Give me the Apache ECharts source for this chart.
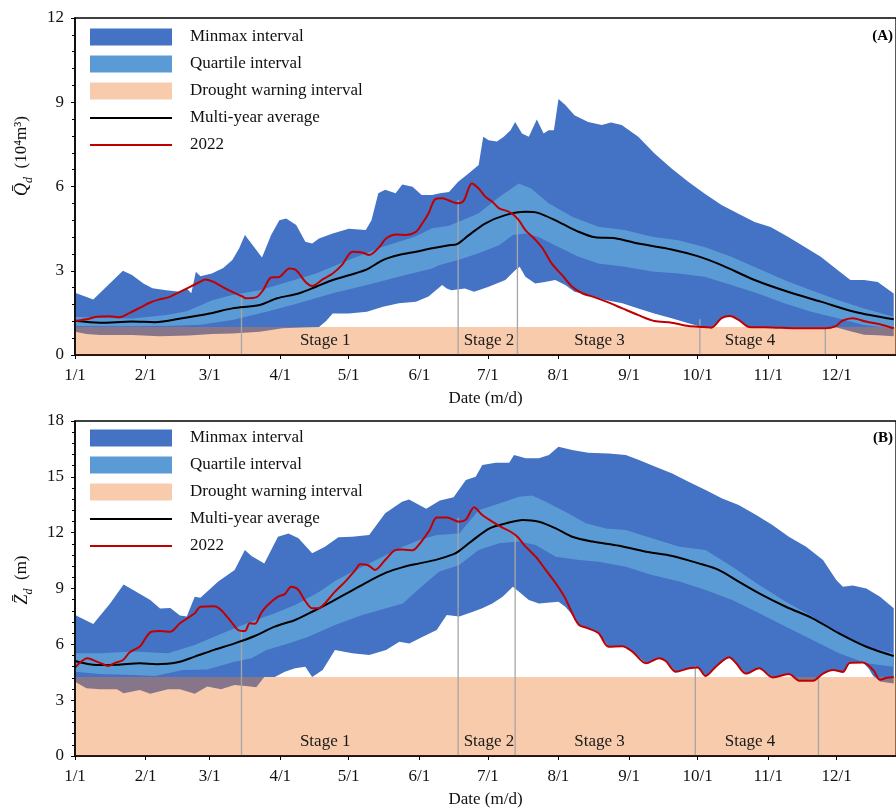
<!DOCTYPE html>
<html><head><meta charset="utf-8">
<script src="https://cdn.jsdelivr.net/npm/echarts@6/dist/echarts.min.js"></script>
<style>html,body{margin:0;padding:0;background:#fff}#c{width:896px;height:809px}</style>
</head><body><div id="c"></div>
<script>
// ---------- axis ticks ----------
const monthStarts = [0,31,59,90,120,151,181,212,243,273,304,334];
const monthLabels = ['1/1','2/1','3/1','4/1','5/1','6/1','7/1','8/1','9/1','10/1','11/1','12/1'];
const stageNames = ['Stage 1','Stage 2','Stage 3','Stage 4'];

// ---------- Panel A : discharge (10^4 m3), [day-of-year index, value] ----------
const aMax = [[0,2.22],[8,1.98],[14,2.45],[21,3.0],[25,2.85],[30,2.55],[34,2.38],[40,2.31],[46,2.25],[49,2.37],[51,2.2],[53,2.96],[55,2.8],[60,2.9],[65,3.1],[69,3.38],[72,3.8],[74.5,4.27],[78,3.9],[82,3.47],[86,4.27],[89.6,4.8],[92.6,4.86],[97,4.63],[101,4.03],[104,3.97],[107,4.15],[113,4.33],[120,4.5],[127.5,4.45],[130,4.8],[133,5.76],[136,5.88],[140.6,5.76],[143.5,6.07],[148,5.99],[152,5.7],[156.6,5.7],[160,5.76],[164,5.8],[168,6.17],[172.7,6.47],[177,6.77],[179,7.77],[181.4,7.65],[185,7.6],[188,7.77],[191,8.0],[193,8.3],[196,7.89],[199,7.77],[202.5,8.39],[205.5,7.89],[207.7,8.0],[210,8.0],[212,9.12],[215,8.9],[219,8.54],[225,8.3],[231,8.19],[235,8.28],[239.7,8.19],[247,7.77],[254,7.18],[261.6,6.64],[268.9,6.17],[276,5.75],[283.5,5.34],[290.7,5.04],[298,4.74],[305,4.56],[312.6,4.21],[320,3.85],[327,3.5],[334.5,3.02],[340,2.67],[346,2.67],[352,2.6],[359,2.19]];
const aQ3 = [[0,1.36],[10,1.32],[25.5,1.3],[40,1.42],[49,1.56],[60.5,1.96],[69,2.14],[81,2.31],[91,2.55],[105.7,2.9],[120,3.38],[134.7,3.85],[149,4.21],[156.6,4.51],[164,4.6],[168,4.74],[177,5.05],[186,5.63],[194.6,6.11],[200,5.93],[207.7,5.4],[218,4.92],[229.5,4.57],[241,4.45],[253,4.21],[264.5,4.09],[276,3.85],[287.8,3.5],[299.5,3.08],[311,2.67],[322.8,2.31],[334.5,1.96],[346,1.66],[359,1.36]];
const aMean = [[0,1.22],[11,1.15],[25,1.19],[35,1.17],[47,1.31],[59,1.48],[69,1.66],[81,1.78],[88.6,2.02],[98,2.19],[105.7,2.43],[113,2.67],[120.5,2.85],[128,3.05],[135,3.38],[142,3.56],[149.5,3.68],[156.6,3.8],[164,3.91],[167.5,3.95],[172.7,4.27],[180,4.69],[188.7,4.98],[197.5,5.1],[203,5.06],[212,4.74],[220.8,4.39],[228,4.19],[236.8,4.16],[247,3.97],[261.6,3.76],[273,3.52],[283.5,3.2],[298,2.67],[312.6,2.25],[327,1.9],[341.7,1.54],[359,1.27]];
const aQ1 = [[0,1.03],[20,1.02],[40,1.03],[55,1.08],[69,1.25],[84,1.54],[98,1.84],[113,2.2],[128,2.49],[142,2.79],[156.6,3.08],[159.6,3.2],[168,3.38],[177,3.62],[186,3.91],[192,4.27],[197.5,4.33],[203,4.21],[212,3.85],[220.8,3.5],[229.5,3.26],[241,3.14],[253,2.97],[264.5,2.9],[276,2.79],[287.8,2.49],[299.5,2.19],[311,1.84],[322.8,1.54],[334.5,1.31],[346,1.07],[359,0.95]];
const aMin = [[0,0.83],[5,0.75],[11,0.71],[25,0.71],[37,0.67],[50,0.69],[60,0.75],[69,0.77],[81,0.83],[91,0.95],[100,0.98],[107,1.0],[110,1.2],[113,1.48],[120,1.48],[128,1.54],[135,1.72],[142,1.84],[149.5,1.9],[155,2.08],[161,2.49],[163,2.37],[165,2.31],[171,2.37],[175,2.25],[181.4,2.43],[188.7,2.67],[193,3.02],[195,3.14],[197.5,2.79],[201.8,2.55],[206,2.6],[210.6,2.67],[215,2.49],[219,2.25],[225,2.14],[232.5,1.96],[240,1.84],[247,1.66],[254,1.48],[261.6,1.31],[269,1.13],[275,1.0],[279,0.97],[283.5,1.31],[287.2,1.39],[291,1.25],[295.5,1.0],[305.6,0.98],[317.5,0.95],[329,0.95],[334,0.98],[340,0.85],[346,0.72],[352,0.7],[359,0.67]];
const a2022 = [[0,1.21],[5,1.27],[9.5,1.36],[15,1.38],[19.6,1.34],[24,1.5],[28.4,1.68],[33,1.87],[37,1.98],[41.5,2.07],[46,2.25],[50,2.41],[55,2.61],[57,2.69],[60.5,2.61],[65,2.41],[69,2.25],[73,2.1],[75,2.02],[79.6,2.06],[82.5,2.31],[86,2.76],[89.6,2.78],[94,3.08],[97,3.02],[101,2.61],[104,2.46],[108.6,2.69],[113,2.9],[117,3.2],[121.7,3.68],[126,3.65],[129,3.56],[133.5,3.85],[136.4,4.15],[141,4.29],[145,4.27],[149.5,4.39],[152.3,4.69],[155,5.04],[158,5.55],[161,5.58],[164,5.5],[168,5.4],[170.5,5.5],[174,6.11],[177,5.93],[180,5.63],[183,5.46],[186,5.22],[189,5.14],[191.6,5.04],[194.6,4.8],[197.5,4.45],[202,4.09],[205,3.8],[209,3.26],[213.5,2.85],[218,2.43],[222.6,2.19],[227,2.08],[233,1.9],[240,1.66],[247,1.42],[254,1.21],[261.6,1.15],[269,1.03],[276,1.0],[279,0.97],[283.5,1.31],[287.2,1.39],[291,1.25],[295.5,1.0],[305.6,0.98],[317.5,0.95],[329,0.95],[333.6,1.03],[336.5,1.22],[341,1.31],[346.8,1.19],[354,1.07],[359,0.95]];
const aDrought = 1.0;
const aStageDays = [73,168,194,274,329];
const aStageTops = [2.1,5.52,4.98,1.27,0.97];
const aStageLabelDays = [109.7,181.5,230,296];
const aStageLabelY = 0.5;

// ---------- Panel B : water level (m) ----------
const bMax = [[0,7.58],[8,7.09],[15.4,8.2],[21.3,9.22],[25.7,8.91],[33,8.38],[37.3,7.93],[41.8,7.95],[46,7.55],[49,7.5],[52.5,8.56],[55,8.5],[62.8,9.37],[70,10.0],[74.5,11.07],[77.4,10.75],[83,10.35],[89,11.78],[93.6,11.96],[98,11.7],[104,10.89],[109.6,11.25],[115.5,11.75],[121.5,11.78],[129,11.87],[136,13.04],[143.4,13.66],[146.5,13.78],[154,13.29],[160,13.73],[166,13.9],[171.4,14.83],[175.7,15.0],[178.6,15.64],[184.5,15.76],[190.4,15.76],[192.5,16.17],[197.6,16.0],[203.4,16.0],[207.8,16.17],[212,16.62],[218,16.44],[225,16.3],[234,16.26],[241.5,16.17],[247.3,15.9],[254.5,15.54],[261.9,15.18],[269,14.74],[276.5,14.29],[283.8,13.84],[291,13.49],[298.5,12.96],[305.8,12.41],[313,11.78],[320.6,11.25],[328,10.53],[333.8,9.46],[336.7,9.1],[341,9.16],[347,9.0],[353,8.56],[359,7.94]];
const bQ3 = [[0,5.52],[11,5.52],[25.7,5.61],[40.8,5.52],[52.5,5.96],[61,6.41],[70,6.86],[78.8,7.3],[87.6,7.67],[96.5,8.12],[106.8,8.8],[114,9.4],[121.6,9.9],[129,10.35],[136.4,10.8],[143.8,11.25],[151,11.6],[158.6,11.87],[168.5,11.96],[177,13.2],[186,13.57],[194.7,13.93],[200.5,14.0],[206.4,13.66],[215,13.13],[224,12.5],[232.8,12.23],[241.5,12.14],[253,11.7],[265,11.25],[276.5,11.07],[288.2,10.17],[300,9.19],[311.7,8.29],[323.4,7.49],[335,6.59],[347,5.87],[359,5.52]];
const bMean = [[0,5.1],[9.5,4.89],[18.4,4.9],[28.4,4.98],[35.7,4.93],[44.5,5.02],[52.5,5.34],[61,5.7],[70,6.05],[78.8,6.45],[87.6,6.95],[96.5,7.31],[104,7.75],[112.6,8.3],[121.6,8.9],[129,9.4],[136.4,9.85],[143.8,10.15],[151,10.35],[158.6,10.55],[166,10.85],[168,10.98],[174.5,11.6],[181.8,12.23],[189,12.5],[196.3,12.68],[203.4,12.59],[210.8,12.23],[218,11.78],[227,11.52],[238.6,11.3],[250.4,10.98],[261.9,10.75],[273.5,10.35],[282.4,9.99],[291,9.37],[300,8.74],[311.7,8.02],[323.4,7.4],[335,6.59],[347,5.87],[359,5.37]];
const bQ1 = [[0,4.53],[11,4.41],[25.7,4.35],[35,4.3],[47.4,4.62],[58,4.65],[70,5.07],[77.4,5.25],[84,5.7],[93.6,6.05],[102.4,6.41],[114,7.04],[126,7.58],[136.4,7.94],[143.8,8.2],[151,9.0],[159.6,9.9],[168.5,10.26],[177,11.07],[186,11.43],[194.7,11.52],[202,11.34],[210.8,10.71],[221,10.53],[229.6,10.44],[241.5,10.17],[253,9.73],[265,9.37],[276.5,8.92],[288.2,8.38],[300,7.67],[311.7,6.95],[323.4,6.23],[335,5.52],[347,4.98],[359,4.8]];
const bMin = [[0,3.99],[5,3.64],[11,3.58],[18.4,3.58],[21.3,3.37],[28.4,3.55],[33,3.34],[40.8,3.58],[46,3.58],[52.5,3.34],[58,3.73],[64,3.58],[70,3.82],[75.8,3.75],[79.5,3.7],[83,4.25],[87.6,4.25],[92,4.53],[96.5,4.71],[101,4.8],[104,4.25],[108.6,4.62],[114,5.7],[121.6,5.52],[129,5.43],[136.4,5.7],[142.2,6.14],[146.6,6.05],[152.5,6.41],[158.6,6.77],[163,7.58],[168.5,7.49],[174.5,7.75],[178.6,7.94],[183,8.2],[187.5,8.56],[192,9.1],[194.7,8.82],[199,8.38],[203.4,8.2],[212,8.29],[215,8.02],[218,7.6],[221,7.04],[225,6.86],[229.6,6.59],[234,5.87],[240,5.9],[244.4,5.61],[250.4,4.98],[256.2,5.25],[259,5.1],[263.5,4.53],[269.3,4.71],[273,4.75],[276.5,4.3],[281,4.8],[286.8,5.3],[289.8,5.0],[294.2,4.43],[300,4.71],[306,4.22],[313,4.4],[317.8,4.04],[323.6,4.04],[328,4.43],[332.4,4.62],[336.7,4.52],[339.7,5.0],[345.5,5.02],[348,4.7],[350,4.3],[353,4.0],[359,3.9]];
const b2022 = [[0,4.75],[2,5.0],[5.4,5.25],[9.5,5.07],[12.4,4.93],[14.6,4.84],[17.5,5.0],[21.1,5.16],[24,5.57],[28.4,5.88],[33.5,6.68],[37.3,6.71],[41.8,6.68],[46,7.13],[52.5,7.67],[55,8.02],[61,8.05],[64,7.85],[68.5,7.21],[71.5,6.77],[74.5,6.71],[76.6,7.13],[78.8,7.1],[81.7,7.7],[84.4,8.1],[89,8.56],[92,8.7],[94.8,9.1],[97.8,8.95],[100.7,8.38],[104,7.94],[106.8,7.94],[109.6,8.2],[114,8.83],[118.5,9.37],[123,10.0],[125,10.3],[128.5,10.25],[131.5,10.0],[136,10.53],[140,11.04],[143.4,11.1],[148,11.05],[151.8,11.51],[155.5,12.14],[158.6,12.82],[163,12.82],[168.5,12.59],[171.4,12.7],[175,13.36],[178.6,12.95],[183,12.59],[186.6,12.32],[191,12.05],[194,11.78],[197.6,11.25],[202,10.71],[206.4,10.0],[210.8,9.28],[215,8.47],[218,7.67],[221,7.04],[225,6.86],[229.6,6.59],[234,5.87],[240,5.9],[244.4,5.61],[250.4,4.98],[256.2,5.25],[259,5.1],[263.5,4.53],[269.3,4.71],[273,4.75],[276.5,4.3],[281,4.8],[286.8,5.3],[289.8,5.0],[294.2,4.43],[300,4.71],[306,4.22],[313,4.4],[317.8,4.04],[323.6,4.04],[328,4.43],[332.4,4.62],[336.7,4.52],[339.7,5.0],[345.5,5.02],[350,4.62],[353,4.1],[356,4.2],[359,4.25]];
const bDrought = 4.25;
const bStageDays = [73,168,193,272,326];
const bStageTops = [6.71,12.8,11.89,4.84,4.3];
const bStageLabelDays = [109.7,181.5,230,296];
const bStageLabelY = 0.77;

// ---------- styling ----------
const FONT = '"Liberation Serif", "Times New Roman", serif';
const C_MINMAX = '#4472C4', C_QUART = '#5B9BD5', C_DROUGHT = 'rgba(237,125,49,0.4)';
const C_MEAN = '#000000', C_2022 = '#C00000', C_STAGE = '#A6A6A6';
const X_MAX = 360;
const LINE_ICON = 'path://M0,0H41V1H0Z';

const chart = echarts.init(document.getElementById('c'), null, {renderer:'canvas'});

function band(name, upper, lower, color, gi, z) {
  return {
    type:'custom', name, xAxisIndex:gi, yAxisIndex:gi, z, clip:true,
    itemStyle:{color}, data:[[0,0]], silent:true,
    renderItem:(params, api) => {
      const pts = upper.map(p => api.coord(p)).concat(lower.slice().reverse().map(p => api.coord(p)));
      return {type:'polygon', shape:{points:pts}, style:{fill:color}};
    }
  };
}
function drought(thr, gi) {
  return {
    type:'custom', name:'Drought warning interval', xAxisIndex:gi, yAxisIndex:gi, z:3, clip:true,
    itemStyle:{color:C_DROUGHT}, data:[[0,thr]], silent:true,
    renderItem:(params, api) => {
      const p0 = api.coord([0, api.value(1)]), p1 = api.coord([X_MAX, 0]);
      return {type:'rect', shape:{x:p0[0], y:p0[1], width:p1[0]-p0[0], height:p1[1]-p0[1]}, style:{fill:C_DROUGHT}};
    }
  };
}
function stageLines(days, tops, gi) {
  return {
    type:'custom', xAxisIndex:gi, yAxisIndex:gi, z:4, silent:true,
    data: days.map((d,i) => [d, tops[i]]),
    renderItem:(params, api) => {
      const a = api.coord([api.value(0), 0]), b = api.coord([api.value(0), api.value(1)]);
      return {type:'line', shape:{x1:a[0], y1:a[1], x2:b[0], y2:b[1]}, style:{stroke:C_STAGE, lineWidth:1.3}};
    }
  };
}
function stageLabels(days, y, gi) {
  return {
    type:'custom', xAxisIndex:gi, yAxisIndex:gi, z:7, silent:true,
    data: days.map(d => [d, y]),
    renderItem:(params, api) => {
      const p = api.coord([api.value(0), api.value(1)]);
      return {type:'text', x:p[0], y:p[1], style:{text:stageNames[params.dataIndex], align:'center', verticalAlign:'middle', font:'17px ' + FONT, fill:'#1a1a1a'}};
    }
  };
}
function line(name, data, color, gi, z) {
  return {type:'line', name, data, xAxisIndex:gi, yAxisIndex:gi, z, symbol:'none', showSymbol:false,
    smooth:0.3, lineStyle:{color, width:2}, itemStyle:{color}, silent:true};
}
function xAxis(gi) {
  return {
    type:'value', gridIndex:gi, min:0, max:X_MAX, z:10,
    name:'Date (m/d)', nameLocation:'middle', nameGap:35,
    nameTextStyle:{fontFamily:FONT, fontSize:17, color:'#111'},
    axisLine:{show:true, lineStyle:{color:'#1a0505', width:1.6}},
    axisTick:{show:true, customValues:monthStarts, length:4, lineStyle:{color:'#000'}},
    axisLabel:{customValues:monthStarts, formatter:v => monthLabels[monthStarts.indexOf(v)], fontFamily:FONT, fontSize:17, color:'#111', margin:12},
    splitLine:{show:false}
  };
}
function yAxis(gi, max) {
  return {
    type:'value', gridIndex:gi, min:0, max, interval:3, z:10,
    axisLine:{show:true, lineStyle:{color:'#000', width:1.6}},
    axisTick:{show:true, length:4, lineStyle:{color:'#000'}},
    minorTick:{show:true, splitNumber:5, length:3, lineStyle:{color:'#000'}},
    axisLabel:{fontFamily:FONT, fontSize:17, color:'#111', margin:11},
    splitLine:{show:false}, minorSplitLine:{show:false}
  };
}
function legend(top) {
  return {
    orient:'vertical', left:90, top, padding:0, itemWidth:82, itemHeight:17, itemGap:10,
    selectedMode:false,
    textStyle:{fontFamily:FONT, fontSize:17, color:'#111', lineHeight:17, padding:[0,0,0,13]},
    data:[{name:'Minmax interval', icon:'rect'},{name:'Quartile interval', icon:'rect'},{name:'Drought warning interval', icon:'rect'},
          {name:'Multi-year average', icon:LINE_ICON},{name:'2022', icon:LINE_ICON}]
  };
}

const option = {
  animation:false,
  backgroundColor:'#fff',
  grid:[
    {left:75, top:18, height:337, right:-2, show:true, borderColor:'#000', borderWidth:1.3, backgroundColor:'transparent'},
    {left:75, top:421, height:335, right:-2, show:true, borderColor:'#000', borderWidth:1.3, backgroundColor:'transparent'}
  ],
  xAxis:[xAxis(0), xAxis(1)],
  yAxis:[yAxis(0,12), yAxis(1,18)],
  legend:[legend(28.5), legend(429.5)],
  series:[
    band('Minmax interval', aMax, aMin, C_MINMAX, 0, 1),
    band('Quartile interval', aQ3, aQ1, C_QUART, 0, 2),
    drought(aDrought, 0),
    stageLines(aStageDays, aStageTops, 0),
    line('Multi-year average', aMean, C_MEAN, 0, 5),
    line('2022', a2022, C_2022, 0, 6),
    stageLabels(aStageLabelDays, aStageLabelY, 0),

    band('Minmax interval', bMax, bMin, C_MINMAX, 1, 1),
    band('Quartile interval', bQ3, bQ1, C_QUART, 1, 2),
    drought(bDrought, 1),
    stageLines(bStageDays, bStageTops, 1),
    line('Multi-year average', bMean, C_MEAN, 1, 5),
    line('2022', b2022, C_2022, 1, 6),
    stageLabels(bStageLabelDays, bStageLabelY, 1)
  ],
  graphic:[
    {type:'text', right:3, top:29, style:{text:'(A)', font:'bold 15px ' + FONT, fill:'#000'}},
    {type:'text', right:3, top:431, style:{text:'(B)', font:'bold 15px ' + FONT, fill:'#000'}},
    {type:'text', x:22, y:156, rotation:Math.PI/2,
      style:{text:'{q|Q\u0304}{d|d}{n|  (10\u2074m\u00B3)}', align:'center', verticalAlign:'middle', fill:'#111',
        rich:{q:{fontFamily:FONT, fontStyle:'italic', fontSize:18, lineHeight:26},
              d:{fontFamily:FONT, fontStyle:'italic', fontSize:12, lineHeight:12, verticalAlign:'bottom'},
              n:{fontFamily:FONT, fontSize:17, lineHeight:26}}}},
    {type:'text', x:22, y:580, rotation:Math.PI/2,
      style:{text:'{q|Z\u0304}{d|d}{n|  (m)}', align:'center', verticalAlign:'middle', fill:'#111',
        rich:{q:{fontFamily:FONT, fontStyle:'italic', fontSize:18, lineHeight:26},
              d:{fontFamily:FONT, fontStyle:'italic', fontSize:12, lineHeight:12, verticalAlign:'bottom'},
              n:{fontFamily:FONT, fontSize:17, lineHeight:26}}}}
  ]
};
chart.setOption(option);
</script>
</body></html>
